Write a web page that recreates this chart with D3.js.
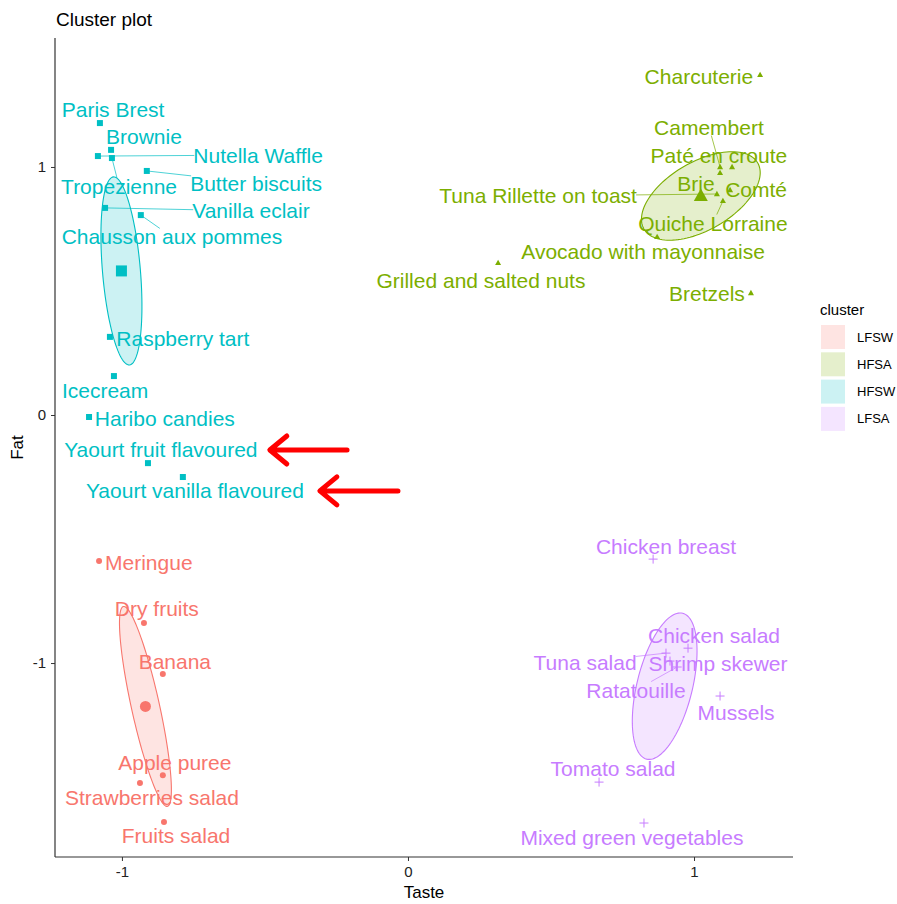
<!DOCTYPE html>
<html>
<head>
<meta charset="utf-8">
<script src="https://cdn.jsdelivr.net/npm/d3@7"></script>
<style>
  body { margin: 0; background: #fff; }
  text { font-family: "Liberation Sans", Arial, sans-serif; }
</style>
</head>
<body>
<div id="chart"></div>
<script>
// cluster names and colours (ggplot default hues)
const clusters = ["LFSW", "HFSA", "HFSW", "LFSA"];
const clusterColors = ["#F8766D", "#7CAE00", "#00BFC4", "#C77CFF"];
const clusterShapes = ["circle", "triangle", "square", "plus"];

// [food, taste, fat, labelTaste, labelFat, segment]
const lfswFoods = [
  ["Meringue", -1.080, -0.589, -0.906, -0.593, false],
  ["Dry fruits", -0.923, -0.839, -0.878, -0.782, false],
  ["Banana", -0.857, -1.044, -0.815, -0.992, false],
  ["Apple puree", -0.857, -1.452, -0.815, -1.399, false],
  ["Strawberries salad", -0.937, -1.484, -0.895, -1.544, false],
  ["Fruits salad", -0.853, -1.641, -0.811, -1.694, false],
];

const hfsaFoods = [
  ["Charcuterie", 1.231, 1.371, 1.017, 1.363, false],
  ["Camembert", 1.091, 1.0, 1.052, 1.161, true],
  ["Paté en croute", 1.133, 1.0, 1.087, 1.048, false],
  ["Brie", 1.091, 0.976, 1.007, 0.935, false],
  ["Comté", 1.126, 0.907, 1.217, 0.911, false],
  ["Tuna Rillette on toast", 1.080, 0.891, 0.455, 0.883, true],
  ["Quiche Lorraine", 1.101, 0.863, 1.066, 0.774, true],
  ["Avocado with mayonnaise", 0.871, 0.718, 0.822, 0.661, false],
  ["Grilled and salted nuts", 0.315, 0.613, 0.255, 0.544, false],
  ["Bretzels", 1.199, 0.492, 1.045, 0.488, false],
];

const hfswFoods = [
  ["Paris Brest", -1.077, 1.177, -1.031, 1.230, false],
  ["Brownie", -1.038, 1.069, -0.923, 1.121, false],
  ["Nutella Waffle", -1.084, 1.044, -0.524, 1.048, true],
  ["Tropezienne", -1.035, 1.036, -1.010, 0.923, true],
  ["Butter biscuits", -0.913, 0.984, -0.531, 0.935, true],
  ["Vanilla eclair", -1.059, 0.835, -0.549, 0.823, true],
  ["Chausson aux pommes", -0.934, 0.806, -0.825, 0.718, true],
  ["Raspberry tart", -1.042, 0.315, -0.787, 0.310, false],
  ["Icecream", -1.028, 0.157, -1.059, 0.097, false],
  ["Haribo candies", -1.115, -0.008, -0.850, -0.016, false],
  ["Yaourt fruit flavoured", -0.909, -0.194, -0.864, -0.141, false],
  ["Yaourt vanilla flavoured", -0.787, -0.250, -0.745, -0.306, false],
];

const lfsaFoods = [
  ["Chicken breast", 0.857, -0.581, 0.902, -0.532, false],
  ["Chicken salad", 0.979, -0.940, 1.070, -0.887, false],
  ["Tuna salad", 0.902, -0.960, 0.619, -0.996, true],
  ["Shrimp skewer", 0.916, -0.992, 1.084, -1.000, false],
  ["Ratatouille", 0.941, -1.016, 0.797, -1.109, true],
  ["Mussels", 1.091, -1.133, 1.147, -1.198, false],
  ["Tomato salad", 0.668, -1.480, 0.717, -1.427, false],
  ["Mixed green vegetables", 0.825, -1.645, 0.783, -1.702, false],
];

const foodsByCluster = [lfswFoods, hfsaFoods, hfswFoods, lfsaFoods];

// concentration ellipses: two conjugate semi-axes in data units
const ellipseMajor = [[0.077, -0.403], [0.199, 0.133], [0.028, -0.379], [0.063, 0.294]];
const ellipseMinor = [[0.048, 0.012], [0.059, -0.119], [0.066, 0.0065], [0.094, -0.027]];
const showCenter = [true, true, true, false];

// red annotation arrows: [tipTaste, tailTaste, fat]
const arrows = [
  [-0.483, -0.213, -0.141],
  [-0.308, -0.035, -0.306],
];

const xTicks = [-1, 0, 1];
const yTicks = [-1, 0, 1];

const width = 897, height = 904;
const margin = { top: 38, right: 104, bottom: 47, left: 55 };

const svg = d3.select("#chart").append("svg")
  .attr("width", width)
  .attr("height", height);

const x = d3.scaleLinear().domain([-1.234, 1.346]).range([margin.left, width - margin.right]);
const y = d3.scaleLinear().domain([-1.782, 1.52]).range([height - margin.bottom, margin.top]);

// title
svg.append("text")
  .attr("x", 56)
  .attr("y", 26)
  .style("font-size", "19px")
  .attr("fill", "#000")
  .text("Cluster plot");

// ellipses
const line = d3.line().curve(d3.curveLinearClosed);
clusters.forEach((c, i) => {
  const foods = foodsByCluster[i];
  const cx = d3.mean(foods, (d) => d[1]);
  const cy = d3.mean(foods, (d) => d[2]);
  const u = ellipseMajor[i], v = ellipseMinor[i];
  const pts = d3.range(0, 120).map((k) => {
    const t = (k / 120) * 2 * Math.PI;
    return [
      x(cx + u[0] * Math.cos(t) + v[0] * Math.sin(t)),
      y(cy + u[1] * Math.cos(t) + v[1] * Math.sin(t)),
    ];
  });
  svg.append("path")
    .attr("d", line(pts))
    .attr("fill", clusterColors[i])
    .attr("fill-opacity", 0.2)
    .attr("stroke", clusterColors[i])
    .attr("stroke-width", 1.1);
});

function drawMarker(g, shape, px, py, s, color) {
  if (shape === "circle") {
    g.append("circle").attr("cx", px).attr("cy", py).attr("r", s / 2).attr("fill", color);
  } else if (shape === "square") {
    g.append("rect").attr("x", px - s / 2).attr("y", py - s / 2)
      .attr("width", s).attr("height", s).attr("fill", color);
  } else if (shape === "triangle") {
    const h = s * 0.9;
    g.append("path")
      .attr("d", `M${px},${py - h * 0.6}L${px + s / 2},${py + h * 0.4}L${px - s / 2},${py + h * 0.4}Z`)
      .attr("fill", color);
  } else {
    g.append("path")
      .attr("d", `M${px - s / 2},${py}H${px + s / 2}M${px},${py - s / 2}V${py + s / 2}`)
      .attr("stroke", color).attr("stroke-width", 1);
  }
}

// points, centers, labels
const segLayer = svg.append("g");
const labelLayer = svg.append("g");
clusters.forEach((c, i) => {
  const foods = foodsByCluster[i];
  const color = clusterColors[i];
  const g = svg.append("g");
  foods.forEach((d) => {
    drawMarker(g, clusterShapes[i], x(d[1]), y(d[2]), clusterShapes[i] === "plus" ? 9 : 6, color);
  });
  if (showCenter[i]) {
    const cx = d3.mean(foods, (d) => d[1]);
    const cy = d3.mean(foods, (d) => d[2]);
    drawMarker(g, clusterShapes[i], x(cx), y(cy), clusterShapes[i] === "triangle" ? 14 : 11, color);
  }

  foods.forEach((d) => {
    const t = labelLayer.append("text")
      .attr("x", x(d[3]))
      .attr("y", y(d[4]))
      .attr("text-anchor", "middle")
      .attr("dominant-baseline", "central")
      .style("font-size", "21px")
      .attr("fill", color)
      .text(d[0]);
    if (d[5]) {
      // segment from the point towards the label centre, clipped at the label box
      const b = t.node().getBBox();
      const lx = b.x + b.width / 2, ly = b.y + b.height / 2;
      const px = x(d[1]), py = y(d[2]);
      const dx = px - lx, dy = py - ly;
      const hw = b.width / 2 - 1, hh = b.height / 2 - 3;
      const k = Math.min(dx ? hw / Math.abs(dx) : Infinity, dy ? hh / Math.abs(dy) : Infinity);
      if (k < 1) {
        segLayer.append("line")
          .attr("x1", px).attr("y1", py)
          .attr("x2", lx + dx * k).attr("y2", ly + dy * k)
          .attr("stroke", color)
          .attr("stroke-width", 0.7);
      }
    }
  });
});

// axes
const xAxis = svg.append("g")
  .attr("transform", `translate(0,${height - margin.bottom})`)
  .call(d3.axisBottom(x).tickValues(xTicks).tickSize(4).tickPadding(5).tickFormat((d) => String(d)));
xAxis.select(".domain").attr("d", `M${margin.left},0H${width - margin.right}`).attr("stroke", "#333").attr("stroke-width", 1.2);

const yAxis = svg.append("g")
  .attr("transform", `translate(${margin.left},0)`)
  .call(d3.axisLeft(y).tickValues(yTicks).tickSize(4).tickPadding(5).tickFormat((d) => String(d)));
yAxis.select(".domain").attr("d", `M0,${margin.top}V${height - margin.bottom}`).attr("stroke", "#333").attr("stroke-width", 1.2);

svg.selectAll(".tick line").attr("stroke", "#333");
svg.selectAll(".tick text")
  .style("font-size", "15px")
  .style("font-family", "Liberation Sans, Arial, sans-serif")
  .attr("fill", "#222");

svg.append("text")
  .attr("x", (margin.left + width - margin.right) / 2)
  .attr("y", 898)
  .attr("text-anchor", "middle")
  .style("font-size", "17px")
  .text("Taste");

svg.append("text")
  .attr("transform", `translate(23,${(margin.top + height - margin.bottom) / 2}) rotate(-90)`)
  .attr("text-anchor", "middle")
  .style("font-size", "17px")
  .text("Fat");

// legend
const legend = svg.append("g").attr("transform", "translate(820,0)");
legend.append("text")
  .attr("x", 0)
  .attr("y", 315)
  .style("font-size", "15px")
  .text("cluster");
clusters.forEach((c, i) => {
  const ky = 325 + i * 27.3;
  legend.append("rect")
    .attr("x", 1).attr("y", ky)
    .attr("width", 24).attr("height", 24)
    .attr("fill", clusterColors[i])
    .attr("fill-opacity", 0.2);
  legend.append("text")
    .attr("x", 37)
    .attr("y", ky + 12)
    .attr("dominant-baseline", "central")
    .style("font-size", "13px")
    .text(c);
});

// red annotation arrows
arrows.forEach((a) => {
  const tipX = x(a[0]), tailX = x(a[1]), ay = y(a[2]);
  svg.append("path")
    .attr("d", `M${tailX},${ay}H${tipX + 2}M${tipX + 17},${ay - 14}L${tipX},${ay}L${tipX + 17},${ay + 14}`)
    .attr("fill", "none")
    .attr("stroke", "#F00")
    .attr("stroke-width", 5)
    .attr("stroke-linecap", "round")
    .attr("stroke-linejoin", "round");
});
</script>
</body>
</html>
